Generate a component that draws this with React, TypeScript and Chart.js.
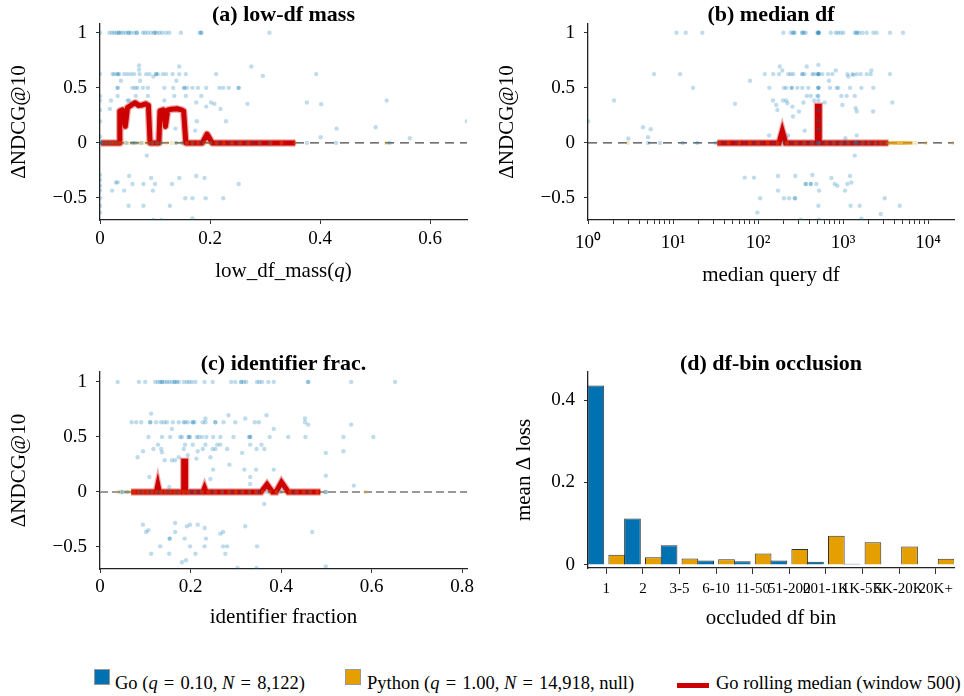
import React, { useEffect, useRef } from 'react';
import { Chart, registerables } from 'chart.js';

Chart.register(...registerables);

const FONT = '"Liberation Serif", "Times New Roman", serif';
Chart.defaults.font.family = FONT;
Chart.defaults.color = '#000';

const GO_COLOR = '#0072B2';
const PY_COLOR = '#E69F00';
const RED = '#CC0000';

// ---------------- (a) low-df mass ----------------
const lowDfTicks = [0, 0.2, 0.4, 0.6];
const deltaTicks = [-0.5, 0, 0.5, 1];
const lowDfGo: [number, number][] = [
  [0, 1], [0.017, 1], [0.022, 1], [0.026, 1], [0.03, 1], [0.034, 1], [0.034, 1], [0.038, 1], [0.042, 1], [0.047, 1],
  [0.052, 1], [0.052, 1], [0.056, 1], [0.062, 1], [0.067, 1], [0.067, 1], [0.078, 1], [0.082, 1], [0.087, 1], [0.093, 1],
  [0.099, 1], [0.099, 1], [0.103, 1], [0.108, 1], [0.113, 1], [0.12, 1], [0.126, 1], [0.147, 1], [0.181, 1], [0.184, 1],
  [0.184, 1], [0.308, 1],
  [0, 0.625], [0.023, 0.625], [0.026, 0.625], [0.032, 0.625], [0.032, 0.625], [0.035, 0.625], [0.044, 0.625], [0.05, 0.625],
  [0.056, 0.625], [0.062, 0.625], [0.072, 0.625], [0.084, 0.625], [0.09, 0.625], [0.102, 0.625], [0.102, 0.625], [0.105, 0.625],
  [0.114, 0.625], [0.12, 0.625], [0.132, 0.625], [0.144, 0.625], [0.156, 0.625], [0.211, 0.625], [0.393, 0.625],
  [0.071, 0.703], [0.144, 0.694], [0.275, 0.694], [0.296, 0.609], [0.071, 0.664], [0.038, 0.564], [0.073, 0.564],
  [0.097, 0.603], [0.139, 0.564],
  [0.032, 0.5], [0.032, 0.5], [0.059, 0.5], [0.064, 0.5], [0.068, 0.5], [0.078, 0.5], [0.087, 0.5], [0.117, 0.5],
  [0.133, 0.5], [0.153, 0.5], [0.153, 0.5], [0.158, 0.5], [0.168, 0.5], [0.178, 0.5], [0.193, 0.5], [0.217, 0.5],
  [0.224, 0.5], [0.234, 0.5], [0.252, 0.5], [0.252, 0.5],
  [0, 0.427], [0, 0.385], [0, 0.3], [0, 0.197], [0, 0.058], [0.02, 0.385], [0.032, 0.427], [0.05, 0.385], [0.053, 0.385],
  [0.065, 0.427], [0.087, 0.427], [0.117, 0.385], [0.135, 0.427], [0.156, 0.427], [0.175, 0.367], [0.184, 0.427],
  [0.193, 0.33], [0.202, 0.367], [0.208, 0.355], [0.219, 0.309], [0.229, 0.197], [0.268, 0.355], [0.376, 0.367],
  [0.402, 0.352], [0.521, 0.385], [0.667, 0.197], [0.018, 0.309], [0.137, 0.13], [0.173, 0.112], [0.176, 0.197],
  [0.43, 0.13], [0.501, 0.142], [0.401, 0.052], [0.563, 0.042],
  [0, 0], [0, 0], [0, 0], [0.003, 0], [0.01, 0], [0.018, 0], [0.029, 0], [0.048, 0], [0.059, 0], [0.064, 0], [0.075, 0],
  [0.093, 0], [0.102, 0], [0.11, 0], [0.138, 0], [0.15, 0], [0.168, 0], [0.184, 0], [0.202, 0], [0.217, 0], [0.235, 0],
  [0.25, 0], [0.265, 0], [0.278, 0], [0.29, 0], [0.308, 0], [0.376, 0], [0.429, 0], [0.526, 0],
  [0.085, -0.115], [0.053, -0.3], [0.029, -0.36], [0.032, -0.358], [0.059, -0.373], [0.079, -0.373], [0.093, -0.318],
  [0.1, -0.373], [0.131, -0.373], [0.144, -0.318], [0.175, -0.3], [0.19, -0.318], [0.252, -0.373], [0.022, -0.433],
  [0.044, -0.433], [0.096, -0.433], [0.155, -0.503], [0.168, -0.503], [0.192, -0.503], [0.224, -0.503], [0.052, -0.57],
  [0.079, -0.57], [0.127, -0.57], [0.097, -0.7], [0.112, -0.7], [0.168, -0.685], [0, -0.29], [0, -0.336], [0, -0.388],
  [0, -0.433], [0, -0.503], [0, -0.57], [0, -0.633],
];
const lowDfPy: [number, number][] = [
  [0.002, 0], [0.008, 0], [0.014, 0], [0.02, 0], [0.026, 0], [0.033, 0], [0.04, 0], [0.046, 0], [0.053, 0], [0.06, 0],
  [0.067, 0], [0.073, 0], [0.08, 0], [0.087, 0], [0.095, 0], [0.104, 0], [0.112, 0], [0.121, 0], [0.13, 0], [0.139, 0],
  [0.148, 0], [0.158, 0], [0.168, 0], [0.178, 0], [0.19, 0], [0.2, 0], [0.212, 0], [0.225, 0], [0.24, 0], [0.255, 0],
  [0.27, 0], [0.29, 0], [0.31, 0], [0.33, 0], [0.355, 0], [0.52, 0],
];
const lowDfMedianX = [0.002, 0.035, 0.036, 0.041, 0.046, 0.05, 0.056, 0.064, 0.07, 0.077, 0.083, 0.088, 0.091, 0.107, 0.109,
  0.115, 0.119, 0.123, 0.13, 0.14, 0.148, 0.152, 0.156, 0.186, 0.1945, 0.204, 0.355];
const lowDfMedianY = [0, 0, 0.29, 0.3, 0.15, 0.32, 0.34, 0.365, 0.34, 0.345, 0.355, 0.34, 0, 0, 0.29,
  0.3, 0.15, 0.3, 0.305, 0.31, 0.3, 0.29, 0, 0, 0.08, 0, 0];

// ---------------- (b) median df ----------------
const dfMajorTicks = [1, 10, 100, 1000, 10000];
const dfMajorLabels = ['10\u2070', '10\u00B9', '10\u00B2', '10\u00B3', '10\u2074'];
const dfMinorSteps = [2, 3, 4, 5, 6, 7, 8, 9];
const medianDfGo: [number, number][] = [
  [11, 1], [14.1, 1], [22.1, 1], [199, 1], [242, 1], [260, 1], [260, 1], [270, 1], [332, 1], [332, 1], [348, 1], [364, 1],
  [499, 1], [513, 1], [513, 1], [513, 1], [522, 1], [716, 1], [820, 1], [873, 1], [939, 1], [1009, 1], [1372, 1], [1449, 1],
  [1449, 1], [1542, 1], [1688, 1], [1898, 1], [2273, 1], [2488, 1], [3572, 1], [5080, 1],
  [5.98, 0.625], [12.1, 0.625], [120, 0.625], [151, 0.625], [177, 0.625], [227, 0.625], [242, 0.625], [260, 0.625],
  [332, 0.625], [332, 0.625], [354, 0.625], [436, 0.625], [456, 0.625], [499, 0.625], [513, 0.625], [513, 0.625],
  [522, 0.625], [571, 0.625], [666, 0.625], [749, 0.625], [1125, 0.625], [1288, 0.625], [1449, 0.625], [1614, 0.625],
  [1898, 0.625], [2115, 0.625], [3572, 0.625],
  [180, 0.694], [374, 0.694], [513, 0.709], [193, 0.658], [684, 0.564], [820, 0.658], [1156, 0.603], [1325, 0.618],
  [2153, 0.658], [80.5, 0.564],
  [17.2, 0.5], [136, 0.5], [202, 0.5], [215, 0.5], [249, 0.5], [249, 0.5], [290, 0.5], [332, 0.5], [391, 0.5], [513, 0.5],
  [513, 0.5], [513, 0.5], [703, 0.5], [842, 0.5], [881, 0.5], [1209, 0.5], [1643, 0.5], [2273, 0.5],
  [2.02, 0.385], [53.6, 0.355], [150, 0.385], [164, 0.345], [169, 0.3], [197, 0.385], [215, 0.385], [221, 0.36],
  [254, 0.33], [258, 0.24], [303, 0.285], [342, 0.367], [374, 0.427], [417, 0.427], [456, 0.385], [499, 0.427],
  [513, 0.385], [513, 0.427], [608, 0.367], [955, 0.427], [982, 0.345], [1104, 0.427], [1372, 0.427], [1409, 0.315],
  [1449, 0.285], [2262, 0.285], [3802, 0.367], [4.44, 0.142], [5.46, 0.124], [1, 0.197], [354, 0.112], [513, 0.124],
  [135, 0.067], [226, 0.067], [1449, 0.067], [1065, 0.042], [2.98, 0.04], [5.08, 0.052], [513, 0.3], [513, 0.2],
  [5.08, 0], [7.03, 0], [13, 0], [19.3, 0], [31.8, 0], [40, 0], [55, 0], [70, 0], [90, 0], [110, 0], [150, 0], [200, 0],
  [250, 0], [300, 0], [350, 0], [400, 0], [450, 0], [513, 0], [513, 0], [513, 0], [600, 0], [700, 0], [800, 0], [900, 0],
  [1000, 0], [1100, 0], [1250, 0], [1400, 0], [1450, 0], [1450, 0], [1600, 0], [1800, 0], [2100, 0], [2500, 0], [3000, 0],
  [1372, -0.115], [69.7, -0.315], [89.7, -0.315], [172, -0.3], [172, -0.433], [275, -0.3], [364, -0.373], [364, -0.373],
  [417, -0.373], [417, -0.373], [436, -0.291], [486, -0.373], [522, -0.433], [729, -0.318], [798, -0.373], [857, -0.388],
  [1056, -0.433], [1125, -0.373], [1209, -0.3], [1253, -0.36], [106, -0.503], [202, -0.503], [232, -0.503], [272, -0.503],
  [272, -0.503], [513, -0.57], [1226, -0.57], [1570, -0.57], [3092, -0.503], [4643, -0.57], [98.2, -0.633], [2775, -0.645],
  [1643, -0.688], [318, -0.697], [522, -0.697],
];
const medianDfPy: [number, number][] = [
  [2.95, 0], [35, 0], [45, 0], [60, 0], [80, 0], [100, 0], [130, 0], [170, 0], [220, 0], [280, 0], [350, 0], [430, 0],
  [520, 0], [640, 0], [780, 0], [950, 0], [1150, 0], [1400, 0], [1700, 0], [2000, 0], [2400, 0], [2800, 0], [3200, 0],
  [3400, 0], [3500, 0], [3600, 0], [3700, 0], [3800, 0], [3900, 0], [4000, 0], [4100, 0], [4200, 0], [4300, 0], [4400, 0],
  [4500, 0], [4600, 0], [4700, 0], [4800, 0], [4900, 0], [5000, 0], [5100, 0], [5200, 0], [5300, 0], [5400, 0], [5500, 0],
  [5700, 0], [5800, 0], [6000, 0], [6100, 0], [6300, 0], [6500, 0], [7200, 0], [9390, 0], [19680, 0],
];
const medianDfMedianX = [33.2, 176.6, 193, 211.5, 501, 501, 525, 525, 3414];
const medianDfMedianY = [0, 0, 0.109, 0, 0, 0.332, 0.332, 0, 0];

// ---------------- (c) identifier fraction ----------------
const idFracTicks = [0, 0.2, 0.4, 0.6, 0.8];
const idFracGo: [number, number][] = [
  [0.039, 1], [0.086, 1], [0.1, 1], [0.122, 1], [0.128, 1], [0.133, 1], [0.137, 1], [0.137, 1], [0.143, 1], [0.148, 1],
  [0.153, 1], [0.159, 1], [0.165, 1], [0.165, 1], [0.17, 1], [0.174, 1], [0.185, 1], [0.192, 1], [0.197, 1], [0.203, 1],
  [0.211, 1], [0.231, 1], [0.249, 1], [0.29, 1], [0.299, 1], [0.312, 1], [0.312, 1], [0.318, 1], [0.323, 1], [0.347, 1],
  [0.352, 1], [0.358, 1], [0.372, 1], [0.384, 1], [0.46, 1], [0.46, 1], [0.555, 1], [0.652, 1],
  [0.07, 0.633], [0.08, 0.633], [0.091, 0.633], [0.111, 0.633], [0.111, 0.633], [0.124, 0.633], [0.135, 0.633],
  [0.142, 0.633], [0.148, 0.633], [0.161, 0.633], [0.174, 0.633], [0.185, 0.633], [0.188, 0.633], [0.194, 0.633],
  [0.205, 0.633], [0.205, 0.633], [0.209, 0.633], [0.227, 0.633], [0.233, 0.633], [0.255, 0.633], [0.255, 0.633],
  [0.273, 0.633], [0.299, 0.633], [0.342, 0.633], [0.351, 0.633], [0.453, 0.633],
  [0.113, 0.712], [0.284, 0.697], [0.321, 0.667], [0.368, 0.697], [0.233, 0.667], [0.453, 0.667], [0.46, 0.612],
  [0.555, 0.612], [0.159, 0.573], [0.384, 0.573],
  [0.107, 0.5], [0.137, 0.5], [0.155, 0.5], [0.177, 0.5], [0.181, 0.5], [0.196, 0.5], [0.196, 0.5], [0.199, 0.5],
  [0.214, 0.5], [0.218, 0.5], [0.225, 0.5], [0.235, 0.5], [0.25, 0.5], [0.266, 0.5], [0.295, 0.5], [0.329, 0.5],
  [0.332, 0.5], [0.332, 0.5], [0.375, 0.5], [0.416, 0.5], [0.454, 0.5], [0.538, 0.5], [0.604, 0.5],
  [0.128, 0.43], [0.118, 0.39], [0.135, 0.39], [0.137, 0.36], [0.095, 0.37], [0.083, 0.315], [0.143, 0.288],
  [0.159, 0.288], [0.166, 0.288], [0.174, 0.315], [0.185, 0.39], [0.188, 0.43], [0.194, 0.333], [0.205, 0.43],
  [0.213, 0.303], [0.216, 0.37], [0.227, 0.39], [0.233, 0.43], [0.244, 0.315], [0.249, 0.39], [0.255, 0.39],
  [0.259, 0.43], [0.266, 0.43], [0.281, 0.39], [0.286, 0.248], [0.314, 0.355], [0.332, 0.43], [0.346, 0.39],
  [0.357, 0.43], [0.363, 0.39], [0.319, 0.203], [0.345, 0.203], [0.384, 0.203], [0.499, 0.355], [0.538, 0.37],
  [0.25, 0.203], [0.244, 0.118], [0.109, 0.136], [0.332, 0.136], [0.332, 0.073], [0.499, 0.148], [0.561, 0.058],
  [0.153, 0.045],
  [0.046, 0], [0.05, 0], [0.06, 0], [0.09, 0], [0.11, 0], [0.13, 0], [0.15, 0], [0.17, 0], [0.2, 0], [0.21, 0], [0.22, 0],
  [0.25, 0], [0.27, 0], [0.29, 0], [0.31, 0], [0.33, 0], [0.35, 0], [0.37, 0], [0.4, 0], [0.43, 0], [0.46, 0], [0.499, 0],
  [0.499, 0],
  [0.363, -0.109], [0.095, -0.297], [0.102, -0.364], [0.107, -0.348], [0.166, -0.282], [0.166, -0.364], [0.192, -0.312],
  [0.199, -0.297], [0.216, -0.297], [0.231, -0.327], [0.266, -0.379], [0.272, -0.364], [0.321, -0.312], [0.469, -0.364],
  [0.154, -0.424], [0.154, -0.424], [0.187, -0.424], [0.234, -0.424], [0.133, -0.494], [0.199, -0.494], [0.231, -0.494],
  [0.272, -0.494], [0.281, -0.494], [0.347, -0.494], [0.113, -0.561], [0.153, -0.561], [0.211, -0.561], [0.277, -0.561],
  [0.181, -0.639], [0.19, -0.621], [0.304, -0.691], [0.346, -0.691], [0.499, -0.676],
];
const idFracPy: [number, number][] = [
  [0.04, 0], [0.05, 0], [0.058, 0], [0.066, 0], [0.075, 0], [0.085, 0], [0.095, 0], [0.105, 0], [0.115, 0], [0.125, 0],
  [0.135, 0], [0.145, 0], [0.155, 0], [0.165, 0], [0.175, 0], [0.185, 0], [0.195, 0], [0.21, 0], [0.225, 0], [0.24, 0],
  [0.255, 0], [0.27, 0], [0.285, 0], [0.3, 0], [0.315, 0], [0.33, 0], [0.345, 0], [0.36, 0], [0.375, 0], [0.39, 0],
  [0.405, 0], [0.42, 0], [0.435, 0], [0.45, 0], [0.465, 0], [0.48, 0], [0.495, 0], [0.587, 0],
];
const idFracMedianX = [0.069, 0.1245, 0.1278, 0.1311, 0.185, 0.185, 0.189, 0.189, 0.2277, 0.231, 0.2343, 0.356, 0.369,
  0.381, 0.389, 0.401, 0.416, 0.487];
const idFracMedianY = [0, 0, 0.064, 0, 0, 0.28, 0.28, 0, 0, 0.036, 0, 0, 0.068, 0, 0, 0.089, 0, 0];

// ---------------- (d) df-bin occlusion ----------------
const dfBins = ['1', '2', '3-5', '6-10', '11-50', '51-200', '201-1K', '1K-5K', '5K-20K', '20K+'];
const goOcclusion = [0.435, 0.113, 0.048, 0.011, 0.009, 0.011, 0.008, 0.003, 0.001, 0.0];
const pyOcclusion = [0.025, 0.019, 0.016, 0.014, 0.028, 0.039, 0.071, 0.055, 0.045, 0.015];
const lossTicks = [0, 0.2, 0.4];

// ---------------- helpers ----------------
const fmtNum = (v: number) => (v < 0 ? '\u2212' + String(Math.abs(v)) : String(v));

type TextPart = { text: string; italic?: boolean };

const panelTitle = (text: string, off: number) => ({
  id: 'panelTitle',
  afterDraw(chart: any) {
    const { ctx, chartArea } = chart;
    ctx.save();
    ctx.font = `bold 22px ${FONT}`;
    ctx.fillStyle = '#000';
    ctx.textAlign = 'center';
    ctx.textBaseline = 'alphabetic';
    ctx.fillText(text, (chartArea.left + chartArea.right) / 2, chartArea.top - off);
    ctx.restore();
  },
});

// x-axis title made of roman and italic runs, centred under the plot area
const mixedXTitle = (parts: TextPart[], fromBottom: number) => ({
  id: 'mixedXTitle',
  afterDraw(chart: any) {
    const { ctx, chartArea } = chart;
    ctx.save();
    ctx.fillStyle = '#000';
    ctx.textBaseline = 'middle';
    ctx.textAlign = 'left';
    const fontFor = (p: TextPart) => `${p.italic ? 'italic ' : ''}21px ${FONT}`;
    let total = 0;
    const widths = parts.map((p) => {
      ctx.font = fontFor(p);
      const w = ctx.measureText(p.text).width;
      total += w;
      return w;
    });
    let x = (chartArea.left + chartArea.right) / 2 - total / 2;
    const y = chart.height - fromBottom;
    parts.forEach((p, i) => {
      ctx.font = fontFor(p);
      ctx.fillText(p.text, x, y);
      x += widths[i];
    });
    ctx.restore();
  },
});

const gridOpts = (tl: number) => ({
  display: true,
  drawOnChartArea: false,
  drawTicks: true,
  tickLength: tl,
  color: '#333',
  lineWidth: 1,
});
const borderOpts = { display: true, color: '#222', width: 1.3 };

interface ScatterSpec {
  title: string;
  titleOff: number;
  go: [number, number][];
  py: [number, number][];
  medX: number[];
  medY: number[];
  join: 'miter' | 'round' | 'bevel';
  xType: 'linear' | 'logarithmic';
  xMin: number;
  xMax: number;
  xTicks: number[];
  xLabel: (v: number) => string;
  yMin: number;
  yMax: number;
  xTitle: TextPart[];
  yTitle: string;
  padTop: number;
  padRight: number;
  yAxisWidth: number;
  xAxisHeight: number;
  xTickPad: number;
  xTitlePadBottom: number;
  yTitlePadTop: number;
  dashColor: string;
  dashWidth: number;
  dash: number[];
}

function scatterConfig(s: ScatterSpec): any {
  const med = s.medX.map((x, i) => ({ x, y: s.medY[i] }));
  return {
    type: 'scatter',
    data: {
      datasets: [
        {
          data: [{ x: s.xMin, y: 0 }, { x: s.xMax, y: 0 }],
          showLine: true,
          borderColor: s.dashColor,
          borderWidth: s.dashWidth,
          borderDash: s.dash,
          pointRadius: 0,
          order: 10,
        },
        {
          data: med,
          showLine: true,
          borderColor: 'rgba(204,0,0,0.35)',
          borderWidth: 7.5,
          borderJoinStyle: s.join,
          borderCapStyle: 'butt',
          pointRadius: 0,
          order: 9,
        },
        {
          data: med,
          showLine: true,
          borderColor: RED,
          borderWidth: 5,
          borderJoinStyle: s.join,
          borderCapStyle: 'butt',
          pointRadius: 0,
          order: 8,
        },
        {
          data: s.py.map(([x, y]) => ({ x, y })),
          pointRadius: 2.2,
          pointBorderWidth: 0,
          pointBackgroundColor: 'rgba(230,159,0,0.25)',
          order: 7,
        },
        {
          data: s.go.map(([x, y]) => ({ x, y })),
          pointRadius: 2.2,
          pointBorderWidth: 0,
          pointBackgroundColor: 'rgba(0,114,178,0.25)',
          order: 6,
        },
      ],
    },
    options: {
      animation: false,
      responsive: false,
      devicePixelRatio: 1,
      events: [],
      layout: { padding: { top: s.padTop, right: s.padRight, left: 0, bottom: 0 } },
      plugins: { legend: { display: false }, tooltip: { enabled: false } },
      scales: {
        x: {
          type: s.xType,
          min: s.xMin,
          max: s.xMax,
          afterBuildTicks: (axis: any) => {
            axis.ticks = s.xTicks.map((v) => ({ value: v }));
          },
          afterFit: (axis: any) => {
            axis.height = s.xAxisHeight;
          },
          ticks: {
            autoSkip: false,
            maxRotation: 0,
            minRotation: 0,
            padding: s.xTickPad,
            font: { size: 19 },
            color: '#000',
            callback: (v: number) => s.xLabel(v),
          },
          grid: gridOpts(4),
          border: borderOpts,
          title: { display: false },
        },
        y: {
          type: 'linear',
          min: s.yMin,
          max: s.yMax,
          afterBuildTicks: (axis: any) => {
            axis.ticks = deltaTicks.map((v) => ({ value: v }));
          },
          afterFit: (axis: any) => {
            axis.width = s.yAxisWidth;
          },
          ticks: {
            autoSkip: false,
            padding: 9,
            font: { size: 19 },
            color: '#000',
            callback: (v: number) => fmtNum(v),
          },
          grid: gridOpts(4),
          border: borderOpts,
          title: {
            display: true,
            text: s.yTitle,
            font: { size: 21 },
            color: '#000',
            padding: { top: s.yTitlePadTop, bottom: 0 },
          },
        },
      },
    },
    plugins: [panelTitle(s.title, s.titleOff), mixedXTitle(s.xTitle, s.xTitlePadBottom + 12.6)],
  };
}

function barConfig(): any {
  return {
    type: 'bar',
    data: {
      labels: dfBins,
      datasets: [
        {
          data: goOcclusion,
          backgroundColor: GO_COLOR,
          borderColor: '#333',
          borderWidth: 1,
          categoryPercentage: 1.14,
          barPercentage: 0.8,
        },
        {
          data: pyOcclusion,
          backgroundColor: PY_COLOR,
          borderColor: '#333',
          borderWidth: 1,
          categoryPercentage: 1.14,
          barPercentage: 0.8,
        },
      ],
    },
    options: {
      animation: false,
      responsive: false,
      devicePixelRatio: 1,
      events: [],
      layout: { padding: { top: 32, right: 10, left: 0, bottom: 0 } },
      plugins: { legend: { display: false }, tooltip: { enabled: false } },
      scales: {
        x: {
          type: 'category',
          offset: true,
          afterFit: (axis: any) => {
            axis.height = 72;
          },
          ticks: {
            autoSkip: false,
            maxRotation: 0,
            minRotation: 0,
            padding: 6,
            font: { size: 15 },
            color: '#000',
          },
          grid: { ...gridOpts(6), offset: false },
          border: borderOpts,
          title: {
            display: true,
            text: 'occluded df bin',
            font: { size: 21 },
            color: '#000',
            padding: { top: 0, bottom: 8.5 },
          },
        },
        y: {
          type: 'linear',
          min: -0.0073,
          max: 0.468,
          afterBuildTicks: (axis: any) => {
            axis.ticks = lossTicks.map((v) => ({ value: v }));
          },
          afterFit: (axis: any) => {
            axis.width = 108;
          },
          ticks: {
            autoSkip: false,
            padding: 9,
            font: { size: 19 },
            color: '#000',
            callback: (v: number) => fmtNum(v),
          },
          grid: gridOpts(4),
          border: borderOpts,
          title: {
            display: true,
            text: 'mean \u0394 loss',
            font: { size: 21 },
            color: '#000',
            padding: { top: 32, bottom: 0 },
          },
        },
      },
    },
    plugins: [panelTitle('(d) df-bin occlusion', 2)],
  };
}

const dfTickValues = [
  ...dfMajorTicks.slice(0, 4).flatMap((d) => [d, ...dfMinorSteps.map((m) => d * m)]),
  dfMajorTicks[4],
];

function Panel({ left, top, width, height, make }: { left: number; top: number; width: number; height: number; make: () => any }) {
  const ref = useRef<HTMLCanvasElement | null>(null);
  useEffect(() => {
    if (!ref.current) return;
    const chart = new Chart(ref.current, make());
    return () => chart.destroy();
  }, []);
  return (
    <canvas
      ref={ref}
      width={width}
      height={height}
      style={{ position: 'absolute', left, top, width, height }}
    />
  );
}

const legendText: React.CSSProperties = {
  position: 'absolute',
  top: 674,
  fontFamily: FONT,
  fontSize: 18.5,
  lineHeight: '18.5px',
  whiteSpace: 'nowrap',
  color: '#000',
};
const eq = '\u2004=\u2004';

export default function App() {
  useEffect(() => {
    document.body.style.margin = '0';
  }, []);
  return (
    <div style={{ position: 'absolute', left: 0, top: 0, width: 964, height: 696, background: '#fff', overflow: 'hidden' }}>
      <Panel
        left={0}
        top={0}
        width={480}
        height={300}
        make={() =>
          scatterConfig({
            title: '(a) low-df mass',
            titleOff: 3,
            go: lowDfGo,
            py: lowDfPy,
            medX: lowDfMedianX,
            medY: lowDfMedianY,
            join: 'round',
            xType: 'linear',
            xMin: 0,
            xMax: 0.667,
            xTicks: lowDfTicks,
            xLabel: (v) => fmtNum(v),
            yMin: -0.7,
            yMax: 1.08,
            xTitle: [{ text: 'low_df_mass(' }, { text: 'q', italic: true }, { text: ')' }],
            yTitle: '\u0394NDCG@10',
            padTop: 24,
            padRight: 13,
            yAxisWidth: 100,
            xAxisHeight: 80,
            xTickPad: 4,
            xTitlePadBottom: 15.5,
            yTitlePadTop: 6.8,
            dashColor: '#444',
            dashWidth: 1.2,
            dash: [9, 6],
          })
        }
      />
      <Panel
        left={480}
        top={0}
        width={484}
        height={300}
        make={() =>
          scatterConfig({
            title: '(b) median df',
            titleOff: 3,
            go: medianDfGo,
            py: medianDfPy,
            medX: medianDfMedianX,
            medY: medianDfMedianY,
            join: 'miter',
            xType: 'logarithmic',
            xMin: 1,
            xMax: 20200,
            xTicks: dfTickValues,
            xLabel: (v) => {
              const i = dfMajorTicks.indexOf(v);
              return i >= 0 ? dfMajorLabels[i] : '';
            },
            yMin: -0.7,
            yMax: 1.08,
            xTitle: [{ text: 'median query df' }],
            yTitle: '\u0394NDCG@10',
            padTop: 24,
            padRight: 10,
            yAxisWidth: 108,
            xAxisHeight: 80,
            xTickPad: 8,
            xTitlePadBottom: 12,
            yTitlePadTop: 14.4,
            dashColor: '#444',
            dashWidth: 1.2,
            dash: [9, 6],
          })
        }
      />
      <Panel
        left={0}
        top={340}
        width={480}
        height={300}
        make={() =>
          scatterConfig({
            title: '(c) identifier frac.',
            titleOff: 2,
            go: idFracGo,
            py: idFracPy,
            medX: idFracMedianX,
            medY: idFracMedianY,
            join: 'miter',
            xType: 'linear',
            xMin: 0,
            xMax: 0.811,
            xTicks: idFracTicks,
            xLabel: (v) => fmtNum(v),
            yMin: -0.7,
            yMax: 1.09,
            xTitle: [{ text: 'identifier fraction' }],
            yTitle: '\u0394NDCG@10',
            padTop: 32,
            padRight: 13,
            yAxisWidth: 100,
            xAxisHeight: 71,
            xTickPad: 3,
            xTitlePadBottom: 9.5,
            yTitlePadTop: 6.4,
            dashColor: '#999',
            dashWidth: 2,
            dash: [8, 4],
          })
        }
      />
      <Panel left={480} top={340} width={484} height={300} make={barConfig} />

      {/* legend */}
      <div style={{ position: 'absolute', left: 94, top: 669, width: 16, height: 16, background: GO_COLOR, border: '1px solid #999', boxSizing: 'border-box' }} />
      <div style={{ ...legendText, left: 115 }}>
        Go (<i>q</i>{eq}0.10, <i>N</i>{eq}8,122)
      </div>
      <div style={{ position: 'absolute', left: 345, top: 669, width: 16, height: 16, background: PY_COLOR, border: '1px solid #999', boxSizing: 'border-box' }} />
      <div style={{ ...legendText, left: 367 }}>
        Python (<i>q</i>{eq}1.00, <i>N</i>{eq}14,918, null)
      </div>
      <div style={{ position: 'absolute', left: 677, top: 683, width: 32, height: 5, background: RED }} />
      <div style={{ ...legendText, left: 716 }}>Go rolling median (window 500)</div>
    </div>
  );
}
